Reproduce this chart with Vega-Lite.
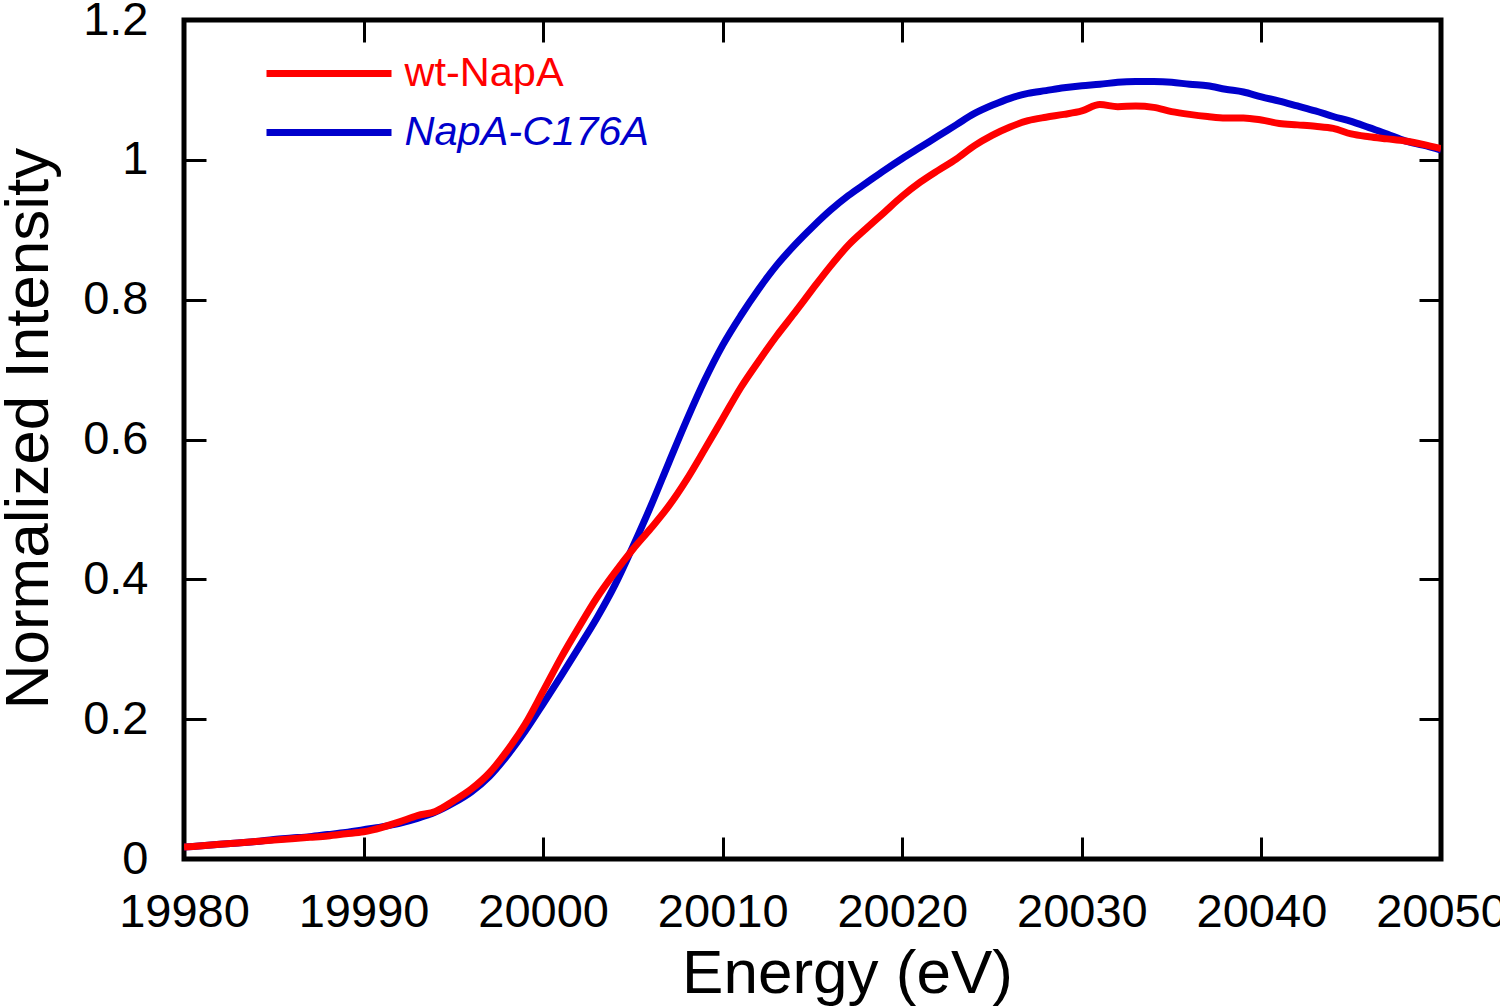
{
"$schema": "https://vega.github.io/schema/vega-lite/v6.json",
"width": 1257, "height": 839,
"autosize": {"type": "none"},
"padding": {"left": 184, "top": 20, "right": 59, "bottom": 147},
"background": "white",
"config": {
 "font": "Liberation Sans",
 "view": {"stroke": "black", "strokeWidth": 5},
 "axis": {"grid": false, "domain": false, "tickColor": "black", "tickWidth": 3, "labelColor": "black", "titleColor": "black", "labelFont": "Liberation Sans", "titleFont": "Liberation Sans", "labelFontSize": 47, "titleFontSize": 62, "titleFontWeight": "normal", "labelFlush": false, "labelOverlap": false, "labelBound": false}
},
"data": {"values": [
{"s":"NapA-C176A","E":19980,"I":0.017},{"s":"NapA-C176A","E":19981,"I":0.019},{"s":"NapA-C176A","E":19982,"I":0.021},{"s":"NapA-C176A","E":19983,"I":0.023},{"s":"NapA-C176A","E":19984,"I":0.025},{"s":"NapA-C176A","E":19985,"I":0.028},{"s":"NapA-C176A","E":19986,"I":0.030},{"s":"NapA-C176A","E":19987,"I":0.032},{"s":"NapA-C176A","E":19988,"I":0.035},{"s":"NapA-C176A","E":19989,"I":0.038},{"s":"NapA-C176A","E":19990,"I":0.042},{"s":"NapA-C176A","E":19991,"I":0.046},{"s":"NapA-C176A","E":19992,"I":0.051},{"s":"NapA-C176A","E":19993,"I":0.058},{"s":"NapA-C176A","E":19994,"I":0.067},{"s":"NapA-C176A","E":19995,"I":0.080},{"s":"NapA-C176A","E":19996,"I":0.096},{"s":"NapA-C176A","E":19997,"I":0.118},{"s":"NapA-C176A","E":19998,"I":0.148},{"s":"NapA-C176A","E":19999,"I":0.183},{"s":"NapA-C176A","E":20000,"I":0.222},{"s":"NapA-C176A","E":20001,"I":0.262},{"s":"NapA-C176A","E":20002,"I":0.303},{"s":"NapA-C176A","E":20003,"I":0.345},{"s":"NapA-C176A","E":20004,"I":0.392},{"s":"NapA-C176A","E":20005,"I":0.447},{"s":"NapA-C176A","E":20006,"I":0.505},{"s":"NapA-C176A","E":20007,"I":0.567},{"s":"NapA-C176A","E":20008,"I":0.628},{"s":"NapA-C176A","E":20009,"I":0.685},{"s":"NapA-C176A","E":20010,"I":0.735},{"s":"NapA-C176A","E":20011,"I":0.777},{"s":"NapA-C176A","E":20012,"I":0.815},{"s":"NapA-C176A","E":20013,"I":0.849},{"s":"NapA-C176A","E":20014,"I":0.878},{"s":"NapA-C176A","E":20015,"I":0.904},{"s":"NapA-C176A","E":20016,"I":0.928},{"s":"NapA-C176A","E":20017,"I":0.949},{"s":"NapA-C176A","E":20018,"I":0.967},{"s":"NapA-C176A","E":20019,"I":0.985},{"s":"NapA-C176A","E":20020,"I":1.002},{"s":"NapA-C176A","E":20021,"I":1.018},{"s":"NapA-C176A","E":20022,"I":1.034},{"s":"NapA-C176A","E":20023,"I":1.050},{"s":"NapA-C176A","E":20024,"I":1.066},{"s":"NapA-C176A","E":20025,"I":1.078},{"s":"NapA-C176A","E":20026,"I":1.088},{"s":"NapA-C176A","E":20027,"I":1.095},{"s":"NapA-C176A","E":20028,"I":1.099},{"s":"NapA-C176A","E":20029,"I":1.103},{"s":"NapA-C176A","E":20030,"I":1.106},{"s":"NapA-C176A","E":20031,"I":1.108},{"s":"NapA-C176A","E":20032,"I":1.111},{"s":"NapA-C176A","E":20033,"I":1.112},{"s":"NapA-C176A","E":20034,"I":1.112},{"s":"NapA-C176A","E":20035,"I":1.111},{"s":"NapA-C176A","E":20036,"I":1.108},{"s":"NapA-C176A","E":20037,"I":1.106},{"s":"NapA-C176A","E":20038,"I":1.101},{"s":"NapA-C176A","E":20039,"I":1.097},{"s":"NapA-C176A","E":20040,"I":1.090},{"s":"NapA-C176A","E":20041,"I":1.084},{"s":"NapA-C176A","E":20042,"I":1.077},{"s":"NapA-C176A","E":20043,"I":1.070},{"s":"NapA-C176A","E":20044,"I":1.062},{"s":"NapA-C176A","E":20045,"I":1.055},{"s":"NapA-C176A","E":20046,"I":1.046},{"s":"NapA-C176A","E":20047,"I":1.037},{"s":"NapA-C176A","E":20048,"I":1.027},{"s":"NapA-C176A","E":20049,"I":1.021},{"s":"NapA-C176A","E":20050,"I":1.014},
{"s":"wt-NapA","E":19980,"I":0.017},{"s":"wt-NapA","E":19981,"I":0.019},{"s":"wt-NapA","E":19982,"I":0.021},{"s":"wt-NapA","E":19983,"I":0.023},{"s":"wt-NapA","E":19984,"I":0.025},{"s":"wt-NapA","E":19985,"I":0.027},{"s":"wt-NapA","E":19986,"I":0.029},{"s":"wt-NapA","E":19987,"I":0.031},{"s":"wt-NapA","E":19988,"I":0.033},{"s":"wt-NapA","E":19989,"I":0.036},{"s":"wt-NapA","E":19990,"I":0.039},{"s":"wt-NapA","E":19991,"I":0.045},{"s":"wt-NapA","E":19992,"I":0.053},{"s":"wt-NapA","E":19993,"I":0.062},{"s":"wt-NapA","E":19994,"I":0.068},{"s":"wt-NapA","E":19995,"I":0.083},{"s":"wt-NapA","E":19996,"I":0.100},{"s":"wt-NapA","E":19997,"I":0.123},{"s":"wt-NapA","E":19998,"I":0.155},{"s":"wt-NapA","E":19999,"I":0.193},{"s":"wt-NapA","E":20000,"I":0.240},{"s":"wt-NapA","E":20001,"I":0.288},{"s":"wt-NapA","E":20002,"I":0.332},{"s":"wt-NapA","E":20003,"I":0.374},{"s":"wt-NapA","E":20004,"I":0.410},{"s":"wt-NapA","E":20005,"I":0.443},{"s":"wt-NapA","E":20006,"I":0.473},{"s":"wt-NapA","E":20007,"I":0.505},{"s":"wt-NapA","E":20008,"I":0.543},{"s":"wt-NapA","E":20009,"I":0.586},{"s":"wt-NapA","E":20010,"I":0.630},{"s":"wt-NapA","E":20011,"I":0.674},{"s":"wt-NapA","E":20012,"I":0.712},{"s":"wt-NapA","E":20013,"I":0.748},{"s":"wt-NapA","E":20014,"I":0.781},{"s":"wt-NapA","E":20015,"I":0.815},{"s":"wt-NapA","E":20016,"I":0.848},{"s":"wt-NapA","E":20017,"I":0.878},{"s":"wt-NapA","E":20018,"I":0.902},{"s":"wt-NapA","E":20019,"I":0.925},{"s":"wt-NapA","E":20020,"I":0.948},{"s":"wt-NapA","E":20021,"I":0.968},{"s":"wt-NapA","E":20022,"I":0.985},{"s":"wt-NapA","E":20023,"I":1.001},{"s":"wt-NapA","E":20024,"I":1.020},{"s":"wt-NapA","E":20025,"I":1.035},{"s":"wt-NapA","E":20026,"I":1.047},{"s":"wt-NapA","E":20027,"I":1.056},{"s":"wt-NapA","E":20028,"I":1.061},{"s":"wt-NapA","E":20029,"I":1.065},{"s":"wt-NapA","E":20030,"I":1.070},{"s":"wt-NapA","E":20031,"I":1.079},{"s":"wt-NapA","E":20032,"I":1.076},{"s":"wt-NapA","E":20033,"I":1.077},{"s":"wt-NapA","E":20034,"I":1.075},{"s":"wt-NapA","E":20035,"I":1.069},{"s":"wt-NapA","E":20036,"I":1.065},{"s":"wt-NapA","E":20037,"I":1.062},{"s":"wt-NapA","E":20038,"I":1.060},{"s":"wt-NapA","E":20039,"I":1.060},{"s":"wt-NapA","E":20040,"I":1.057},{"s":"wt-NapA","E":20041,"I":1.052},{"s":"wt-NapA","E":20042,"I":1.050},{"s":"wt-NapA","E":20043,"I":1.048},{"s":"wt-NapA","E":20044,"I":1.045},{"s":"wt-NapA","E":20045,"I":1.037},{"s":"wt-NapA","E":20046,"I":1.033},{"s":"wt-NapA","E":20047,"I":1.030},{"s":"wt-NapA","E":20048,"I":1.027},{"s":"wt-NapA","E":20049,"I":1.022},{"s":"wt-NapA","E":20050,"I":1.016}
]},
"layer": [
 {"layer": [
  {"transform": [{"filter": "datum.s === 'NapA-C176A'"}],
   "mark": {"type": "line", "strokeWidth": 7, "clip": true, "interpolate": "monotone"},
   "encoding": {
    "x": {"field": "E", "type": "quantitative", "scale": {"domain": [19980, 20050], "nice": false, "zero": false},
      "axis": {"title": "Energy (eV)", "values": [19980,19990,20000,20010,20020,20030,20040,20050], "format": "d", "tickSize": -22, "labelPadding": 89, "labelBaseline": "alphabetic", "titleX": 663, "titleY": 133, "titleBaseline": "alphabetic", "titleAlign": "center"}},
    "y": {"field": "I", "type": "quantitative", "scale": {"domain": [0, 1.2], "nice": false, "zero": false},
      "axis": {"title": "Normalized Intensity", "values": [0,0.2,0.4,0.6,0.8,1,1.2], "format": "~g", "tickSize": -22, "labelPadding": 58, "labelBaseline": "middle", "titleX": -137, "titleY": 408, "titleAngle": -90, "titleBaseline": "alphabetic", "titleAlign": "center"}},
    "color": {"field": "s", "type": "nominal", "scale": {"domain": ["wt-NapA", "NapA-C176A"], "range": ["#ff0000", "#0000cc"]},
      "legend": {"orient": "none", "legendX": 116.5, "legendY": 25, "title": null, "symbolType": "M-2.5,0H2.5", "symbolSize": 2500, "symbolStrokeWidth": 7, "labelFontSize": 41.5, "labelFont": "Liberation Sans", "labelOffset": 47, "labelLimit": 0, "rowPadding": 10, "padding": 0, "labelBaseline": "middle",
        "encode": {"labels": {"update": {"fill": {"signal": "datum.value === 'wt-NapA' ? '#ff0000' : '#0000cc'"}, "fontStyle": {"signal": "datum.value === 'wt-NapA' ? 'normal' : 'italic'"}}}}}}
   }},
  {"transform": [{"filter": "datum.s === 'wt-NapA'"}],
   "mark": {"type": "line", "strokeWidth": 7, "clip": true, "interpolate": "monotone"},
   "encoding": {
    "x": {"field": "E", "type": "quantitative"},
    "y": {"field": "I", "type": "quantitative"},
    "color": {"field": "s", "type": "nominal"}
   }}
 ]},
 {"mark": {"type": "point", "opacity": 0},
  "encoding": {
   "x": {"field": "E", "type": "quantitative", "scale": {"domain": [19980, 20050], "nice": false, "zero": false},
     "axis": {"orient": "top", "labels": false, "title": null, "values": [19980,19990,20000,20010,20020,20030,20040,20050], "tickSize": -22}},
   "y": {"field": "I", "type": "quantitative", "scale": {"domain": [0, 1.2], "nice": false, "zero": false},
     "axis": {"orient": "right", "labels": false, "title": null, "values": [0,0.2,0.4,0.6,0.8,1,1.2], "tickSize": -22}}
  }}
],
"resolve": {"scale": {"x": "independent", "y": "independent"}}
}
